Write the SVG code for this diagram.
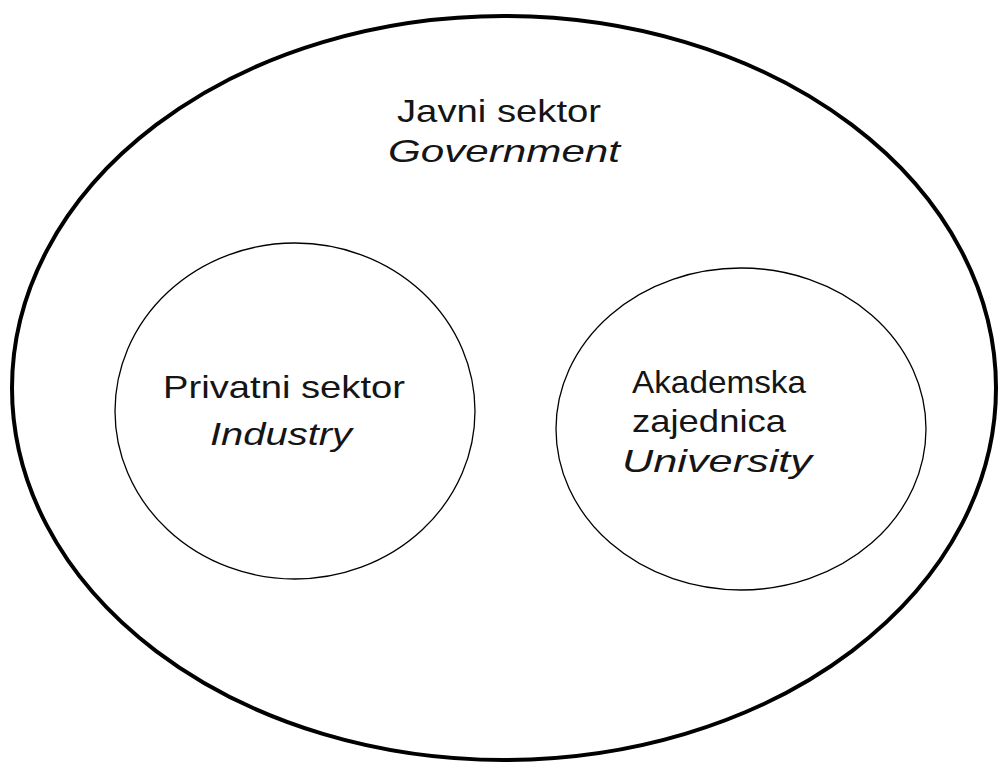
<svg xmlns="http://www.w3.org/2000/svg" width="998" height="762" viewBox="0 0 998 762">
<style>
.t{font-family:"Liberation Sans",Arial,sans-serif;font-size:32px;fill:#151515}
.i{font-style:italic}
.thin{fill:none;stroke:#000;stroke-width:1.3}
</style>
<rect width="998" height="762" fill="#fff"/>
<g id="government">
<ellipse cx="504" cy="388" rx="492" ry="372" fill="none" stroke="#000" stroke-width="4"/>
<text class="t" x="397" y="122" textLength="204" lengthAdjust="spacingAndGlyphs">Javni sektor</text>
<text class="t i" x="388" y="162" textLength="232" lengthAdjust="spacingAndGlyphs">Government</text>
</g>
<g id="industry">
<ellipse cx="295" cy="411" rx="180" ry="168" class="thin"/>
<text class="t" x="163" y="398" textLength="242" lengthAdjust="spacingAndGlyphs">Privatni sektor</text>
<text class="t i" x="210" y="445" textLength="142" lengthAdjust="spacingAndGlyphs">Industry</text>
</g>
<g id="university">
<ellipse cx="741" cy="429" rx="185" ry="161" class="thin"/>
<text class="t" x="632" y="393" textLength="174" lengthAdjust="spacingAndGlyphs">Akademska</text>
<text class="t" x="632" y="432" textLength="154" lengthAdjust="spacingAndGlyphs">zajednica</text>
<text class="t i" x="622" y="472" textLength="190" lengthAdjust="spacingAndGlyphs">University</text>
</g>
<g id="connectors"></g>
</svg>
